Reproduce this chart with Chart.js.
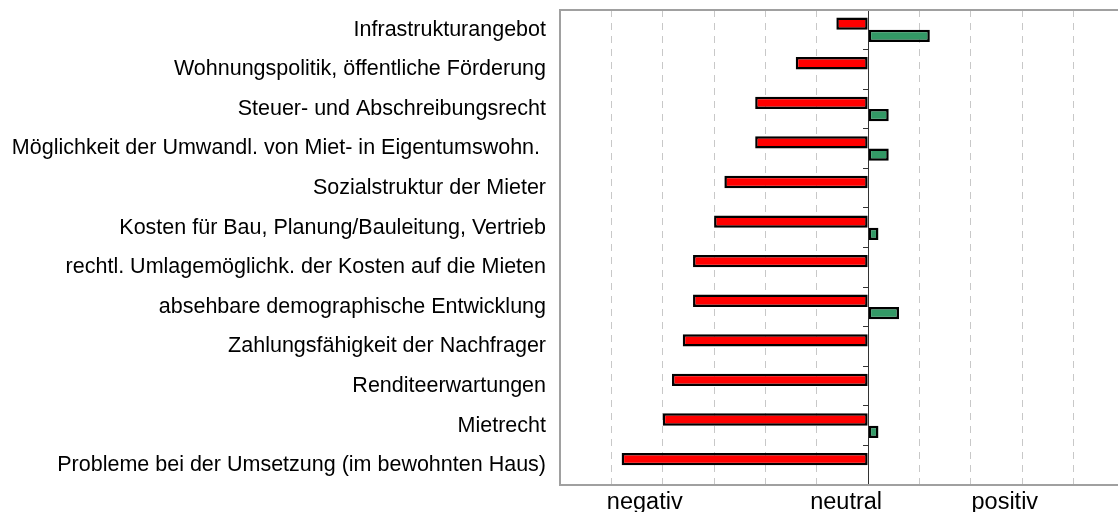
<!DOCTYPE html>
<html>
<head>
<meta charset="utf-8">
<script src="https://cdn.jsdelivr.net/npm/chart.js@4.4.1/dist/chart.umd.min.js"></script>
<style>
  html, body { margin: 0; padding: 0; background: #fff; overflow: hidden; }
  #wrap { position: relative; width: 1128px; height: 512px; }
</style>
</head>
<body>
<div id="wrap"><canvas id="c"></canvas></div>
<script>
const categories = [
  'Infrastrukturangebot',
  'Wohnungspolitik, öffentliche Förderung',
  'Steuer- und Abschreibungsrecht',
  'Möglichkeit der Umwandl. von Miet- in Eigentumswohn. ',
  'Sozialstruktur der Mieter',
  'Kosten für Bau, Planung/Bauleitung, Vertrieb',
  'rechtl. Umlagemöglichk. der Kosten auf die Mieten',
  'absehbare demographische Entwicklung',
  'Zahlungsfähigkeit der Nachfrager',
  'Renditeerwartungen',
  'Mietrecht',
  'Probleme bei der Umsetzung (im bewohnten Haus)'
];
const negativeValues = [-0.62, -1.41, -2.2, -2.2, -2.8, -3.0, -3.41, -3.41, -3.61, -3.82, -4.0, -4.8];
const positiveValues = [1.2, null, 0.4, 0.4, null, 0.2, null, 0.6, null, null, 0.2, null];
const scaleMin = -6;
const scaleMax = 5;
const xLabels = ['negativ', 'neutral', 'positiv'];
const xLabelPositions = [-4.35, -0.43, 2.66];

const framePlugin = {
  id: 'frame',
  afterDraw(chart) {
    const a = chart.chartArea, ctx = chart.ctx;
    ctx.save();
    ctx.strokeStyle = '#a0a0a0';
    ctx.lineWidth = 2;
    ctx.strokeRect(a.left, a.top, a.right - a.left, a.bottom - a.top);
    ctx.restore();
  }
};

new Chart(document.getElementById('c'), {
  type: 'bar',
  data: {
    labels: categories,
    datasets: [
      { label: 'negativ', data: negativeValues, backgroundColor: '#ff0000', borderColor: '#000000', borderWidth: 2.5, borderSkipped: false, yAxisID: 'y' },
      { label: 'positiv', data: positiveValues, backgroundColor: '#339966', borderColor: '#000000', borderWidth: 2.5, borderSkipped: false, yAxisID: 'y' }
    ]
  },
  options: {
    indexAxis: 'y',
    responsive: true,
    maintainAspectRatio: false,
    animation: false,
    categoryPercentage: 0.62,
    barPercentage: 1.0,
    layout: { padding: { top: 10, right: 3, bottom: 0, left: 0 } },
    plugins: { legend: { display: false }, tooltip: { enabled: false } },
    scales: {
      x: {
        type: 'linear', min: scaleMin, max: scaleMax, position: 'bottom',
        afterFit(scale) { scale.height = 0; scale.paddingLeft = 0; scale.paddingRight = 0; },
        ticks: { display: false, stepSize: 1 },
        grid: { color: '#c8c8c8', lineWidth: 1, drawTicks: false },
        border: { display: false, dash: [7, 6] }
      },
      x2: {
        type: 'linear', min: scaleMin, max: scaleMax, position: 'bottom',
        afterBuildTicks(scale) { scale.ticks = xLabelPositions.map(v => ({ value: v })); },
        afterFit(scale) { scale.height = 27; scale.paddingLeft = 0; scale.paddingRight = 0; },
        ticks: {
          autoSkip: false, maxRotation: 0, padding: 5.5, color: '#000',
          font: { family: "'Liberation Sans', Arial, sans-serif", size: 23.5, lineHeight: 1.0 },
          callback: (v, i) => xLabels[i]
        },
        grid: { display: false, drawTicks: false },
        border: { display: false }
      },
      y: {
        type: 'category', position: 'left', offset: true,
        afterFit(scale) { scale.width = 560; scale.paddingTop = 0; scale.paddingBottom = 0; },
        ticks: { color: '#000', padding: 14, autoSkip: false, font: { family: "'Liberation Sans', Arial, sans-serif", size: 21.5 } },
        grid: { display: false, drawTicks: false },
        border: { display: false }
      },
      y2: {
        type: 'category', position: { x: 0 }, offset: true,
        afterFit(scale) { scale.paddingTop = 0; scale.paddingBottom = 0; },
        ticks: { display: false },
        grid: { offset: true, drawOnChartArea: false, drawTicks: true, tickLength: 5, color: '#333', lineWidth: 1 },
        border: { display: true, color: '#333', width: 1 }
      }
    }
  },
  plugins: [framePlugin]
});
</script>
</body>
</html>
